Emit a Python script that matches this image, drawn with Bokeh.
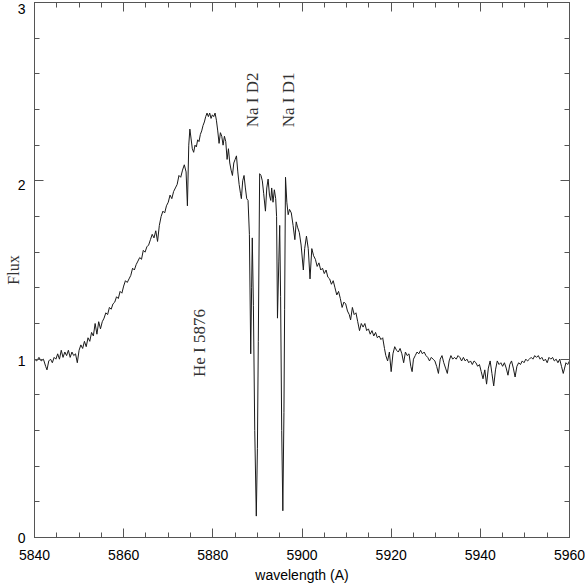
import math
from bokeh.plotting import figure
from bokeh.models import (LinearAxis, SingleIntervalTicker, FixedTicker,
                          Range1d, Label)
from bokeh.embed import file_html
from bokeh.resources import INLINE

# ---- data ----
wavelength = [
    5840.0, 5840.5, 5841.0, 5841.5, 5842.0, 5842.5, 5842.8, 5843.2, 5843.6, 5844.0,
    5844.4, 5844.8, 5845.2, 5845.6, 5846.0, 5846.4, 5846.8, 5847.2, 5847.6, 5848.0,
    5848.4, 5848.8, 5849.2, 5849.6, 5850.0, 5850.4, 5850.8, 5851.2, 5851.6, 5852.0,
    5852.4, 5852.8, 5853.2, 5853.6, 5854.0, 5854.4, 5854.8, 5855.2, 5855.6, 5856.0,
    5856.4, 5856.8, 5857.2, 5857.6, 5858.0, 5858.4, 5858.8, 5859.2, 5859.6, 5860.0,
    5860.4, 5860.8, 5861.2, 5861.6, 5862.0, 5862.4, 5862.8, 5863.2, 5863.6, 5864.0,
    5864.4, 5864.8, 5865.2, 5865.6, 5866.0, 5866.4, 5866.8, 5867.2, 5867.6, 5868.0,
    5868.4, 5868.8, 5869.2, 5869.6, 5870.0, 5870.4, 5870.8, 5871.2, 5871.6, 5872.0,
    5872.4, 5872.8, 5873.2, 5873.6, 5874.0, 5874.3, 5874.6, 5874.85, 5875.1, 5875.4,
    5875.7, 5876.0, 5876.3, 5876.6, 5876.9, 5877.2, 5877.5, 5877.8, 5878.1, 5878.4,
    5878.7, 5879.0, 5879.3, 5879.6, 5879.9, 5880.2, 5880.5, 5880.8, 5881.1, 5881.4,
    5881.7, 5882.0, 5882.3, 5882.6, 5882.9, 5883.2, 5883.5, 5883.8, 5884.1, 5884.4,
    5884.7, 5885.0, 5885.3, 5885.6, 5885.9, 5886.2, 5886.4, 5886.7, 5887.0, 5887.3,
    5887.6, 5887.9, 5888.2, 5888.5, 5888.7, 5888.85, 5889.1, 5889.4, 5889.75, 5890.0,
    5890.2, 5890.5, 5890.8, 5891.1, 5891.4, 5891.8, 5892.1, 5892.4, 5892.7, 5893.0,
    5893.2, 5893.5, 5893.8, 5894.1, 5894.3, 5894.5, 5894.8, 5895.0, 5895.2, 5895.45,
    5895.7, 5895.95, 5896.1, 5896.3, 5896.6, 5896.9, 5897.2, 5897.6, 5898.0, 5898.4,
    5898.7, 5899.0, 5899.4, 5899.8, 5900.3, 5900.6, 5901.0, 5901.4, 5901.8, 5902.2,
    5902.6, 5903.0, 5903.4, 5903.8, 5904.2, 5904.6, 5905.0, 5905.4, 5905.8, 5906.2,
    5906.6, 5907.0, 5907.4, 5907.8, 5908.2, 5908.6, 5909.0, 5909.4, 5909.8, 5910.2,
    5910.6, 5910.9, 5911.3, 5911.7, 5912.1, 5912.5, 5912.9, 5913.3, 5913.7, 5914.1,
    5914.5, 5914.9, 5915.3, 5915.7, 5916.1, 5916.5, 5916.9, 5917.3, 5917.7, 5918.1,
    5918.5, 5918.8, 5919.2, 5919.6, 5920.0, 5920.4, 5920.8, 5921.2, 5921.6, 5922.0,
    5922.4, 5922.8, 5923.2, 5923.6, 5924.0, 5924.4, 5924.7, 5925.0, 5925.4, 5925.8,
    5926.2, 5926.6, 5927.0, 5927.4, 5927.8, 5928.2, 5928.6, 5929.0, 5929.4, 5929.8,
    5930.2, 5930.6, 5931.0, 5931.4, 5931.8, 5932.2, 5932.6, 5933.0, 5933.4, 5933.8,
    5934.2, 5934.6, 5935.0, 5935.4, 5935.8, 5936.2, 5936.6, 5937.0, 5937.4, 5937.8,
    5938.2, 5938.6, 5939.0, 5939.4, 5939.8, 5940.2, 5940.6, 5941.0, 5941.4, 5941.8,
    5942.2, 5942.6, 5943.0, 5943.4, 5943.8, 5944.2, 5944.6, 5945.0, 5945.4, 5945.8,
    5946.2, 5946.6, 5947.0, 5947.4, 5947.8, 5948.2, 5948.6, 5949.0, 5949.4, 5949.8,
    5950.2, 5950.6, 5951.0, 5951.4, 5951.8, 5952.2, 5952.6, 5953.0, 5953.4, 5953.8,
    5954.2, 5954.6, 5955.0, 5955.4, 5955.8, 5956.2, 5956.6, 5957.0, 5957.4, 5957.8,
    5958.2, 5958.6, 5958.9, 5959.2, 5959.6, 5960.0,
]
flux = [
    1.00, 0.99, 1.01, 0.99, 1.00, 0.96, 0.94, 0.99, 1.00, 0.98,
    1.01, 1.00, 1.03, 1.00, 1.05, 1.01, 1.04, 1.02, 1.05, 1.01,
    1.04, 1.02, 1.03, 0.98, 1.05, 1.08, 1.06, 1.10, 1.07, 1.12,
    1.10, 1.15, 1.13, 1.20, 1.14, 1.21, 1.17, 1.21, 1.23, 1.26,
    1.25, 1.29, 1.28, 1.31, 1.32, 1.35, 1.34, 1.38, 1.37, 1.41,
    1.44, 1.43, 1.45, 1.47, 1.51, 1.50, 1.53, 1.55, 1.57, 1.56,
    1.61, 1.60, 1.63, 1.64, 1.67, 1.70, 1.68, 1.72, 1.66, 1.75,
    1.80, 1.83, 1.82, 1.86, 1.88, 1.92, 1.90, 1.94, 1.96, 1.98,
    2.03, 2.02, 2.06, 2.09, 2.05, 1.86, 2.20, 2.29, 2.24, 2.18,
    2.16, 2.20, 2.19, 2.23, 2.22, 2.26, 2.28, 2.31, 2.33, 2.36,
    2.38, 2.36, 2.38, 2.35, 2.37, 2.36, 2.38, 2.34, 2.28, 2.21,
    2.27, 2.25, 2.20, 2.25, 2.22, 2.12, 2.18, 2.10, 2.06, 2.03,
    2.10, 2.12, 2.14, 2.05, 1.98, 1.93, 1.90, 2.00, 2.03, 1.96,
    1.90, 1.89, 1.70, 1.03, 1.40, 1.68, 1.30, 0.60, 0.12, 0.50,
    1.10, 2.04, 2.03, 2.00, 1.93, 1.83, 1.96, 2.01, 1.92, 1.89,
    1.96, 1.88, 1.95, 1.90, 1.80, 1.23, 1.55, 1.75, 1.35, 0.60,
    0.15, 0.70, 1.28, 2.02, 1.88, 1.81, 1.84, 1.82, 1.75, 1.67,
    1.77, 1.74, 1.71, 1.64, 1.50, 1.62, 1.69, 1.62, 1.45, 1.62,
    1.58, 1.56, 1.52, 1.54, 1.50, 1.51, 1.48, 1.50, 1.46, 1.45,
    1.42, 1.44, 1.40, 1.36, 1.38, 1.34, 1.29, 1.32, 1.31, 1.27,
    1.25, 1.22, 1.29, 1.25, 1.26, 1.21, 1.16, 1.20, 1.18, 1.20,
    1.16, 1.17, 1.14, 1.16, 1.13, 1.15, 1.12, 1.13, 1.11, 1.12,
    1.06, 1.02, 0.99, 1.04, 0.93, 1.03, 1.07, 1.05, 1.04, 1.06,
    1.03, 0.98, 1.04, 1.02, 1.03, 0.96, 0.93, 1.00, 1.02, 1.04,
    1.03, 1.05, 1.03, 1.04, 1.02, 1.01, 0.99, 1.01, 1.00, 0.99,
    0.96, 0.92, 1.00, 1.02, 0.98, 0.95, 0.92, 0.99, 1.02, 1.00,
    1.01, 1.00, 1.02, 1.01, 0.99, 1.01, 0.99, 1.00, 0.98, 0.99,
    0.97, 0.99, 0.98, 0.96, 0.97, 0.93, 0.89, 0.94, 0.86, 0.95,
    0.99, 0.92, 0.85, 0.94, 0.99, 0.97, 0.98, 0.96, 0.98, 0.95,
    0.91, 0.97, 0.99, 0.95, 0.90, 0.96, 0.98, 0.97, 0.99, 0.98,
    1.00, 0.99, 1.00, 1.01, 1.00, 1.02, 1.01, 1.02, 1.00, 1.01,
    0.99, 1.00, 0.98, 1.01, 1.00, 1.01, 0.99, 1.00, 0.98, 1.00,
    0.96, 0.92, 0.95, 0.98, 0.97, 0.99,
]

line_names = ["Na I D2", "Na I D1", "He I 5876"]
line_x = [5888.9, 5897.0, 5877.0]
line_y = [2.30, 2.30, 0.90]

y_tick_values = [0, 1, 2, 3]

AX = "#555555"
SANS = "Liberation Sans"
SERIF = "Liberation Serif"

p = figure(frame_width=535, frame_height=535,
           output_backend="svg", toolbar_location=None,
           x_range=Range1d(5840, 5960), y_range=Range1d(0, 3),
           x_axis_location=None, y_axis_location=None,
           min_border_left=34, min_border_right=16,
           min_border_top=2, min_border_bottom=48)
p.styles = {"position": "absolute", "top": "0px", "left": "0px"}
p.grid.visible = False
p.outline_line_color = AX
p.background_fill_color = "white"
p.border_fill_color = "white"
# a label-only scale: tick labels hang a few pixels below their ticks
p.extra_y_ranges = {"labels": Range1d(0, 3.034)}


def xt():
    return SingleIntervalTicker(interval=20, num_minor_ticks=4)


def yt():
    return SingleIntervalTicker(interval=1, num_minor_ticks=5)


def style(ax, labels):
    ax.axis_line_color = AX
    ax.major_tick_line_color = AX
    ax.minor_tick_line_color = AX
    ax.major_tick_in = 9
    ax.major_tick_out = 0
    ax.minor_tick_in = 5
    ax.minor_tick_out = 0
    if not labels:
        ax.major_label_text_color = None
        ax.major_label_text_font_size = "1px"
        ax.major_label_standoff = 0


bottom = LinearAxis(ticker=xt(), axis_label="wavelength (A)")
style(bottom, True)
bottom.major_label_text_font = SANS
bottom.major_label_text_font_size = "14px"
bottom.major_label_text_color = "black"
bottom.major_label_standoff = 12
bottom.axis_label_text_font = SANS
bottom.axis_label_text_font_size = "14px"
bottom.axis_label_text_font_style = "normal"
bottom.axis_label_text_color = "black"
bottom.axis_label_standoff = 4
p.add_layout(bottom, "below")

# ticks of the y axis (no labels)
left = LinearAxis(ticker=yt())
style(left, False)
p.add_layout(left, "left")

# labels of the y axis, plus its title
left_lab = LinearAxis(ticker=FixedTicker(ticks=y_tick_values),
                      y_range_name="labels", axis_label="Flux")
left_lab.axis_line_color = None
left_lab.major_tick_line_color = None
left_lab.minor_tick_line_color = None
left_lab.major_tick_in = 0
left_lab.major_tick_out = 0
left_lab.minor_tick_in = 0
left_lab.minor_tick_out = 0
left_lab.major_label_text_font = SANS
left_lab.major_label_text_font_size = "14px"
left_lab.major_label_text_color = "black"
left_lab.major_label_standoff = 9
left_lab.axis_label_text_font = SERIF
left_lab.axis_label_text_font_size = "16px"
left_lab.axis_label_text_font_style = "normal"
left_lab.axis_label_text_color = "#333333"
left_lab.axis_label_text_line_height = 0.8
left_lab.axis_label_standoff = -7
p.add_layout(left_lab, "left")

top = LinearAxis(ticker=xt())
style(top, False)
p.add_layout(top, "above")

right = LinearAxis(ticker=yt())
style(right, False)
p.add_layout(right, "right")

p.line(wavelength, flux, line_color="#1a1a1a", line_width=1)

for name, lx, ly in zip(line_names, line_x, line_y):
    p.add_layout(Label(x=lx, y=ly, text=name, angle=math.pi / 2,
                       text_font=SERIF, text_font_size="17px",
                       text_color="#333333", text_align="left",
                       text_baseline="middle"))

open("out.html", "w").write(file_html(p, INLINE))
